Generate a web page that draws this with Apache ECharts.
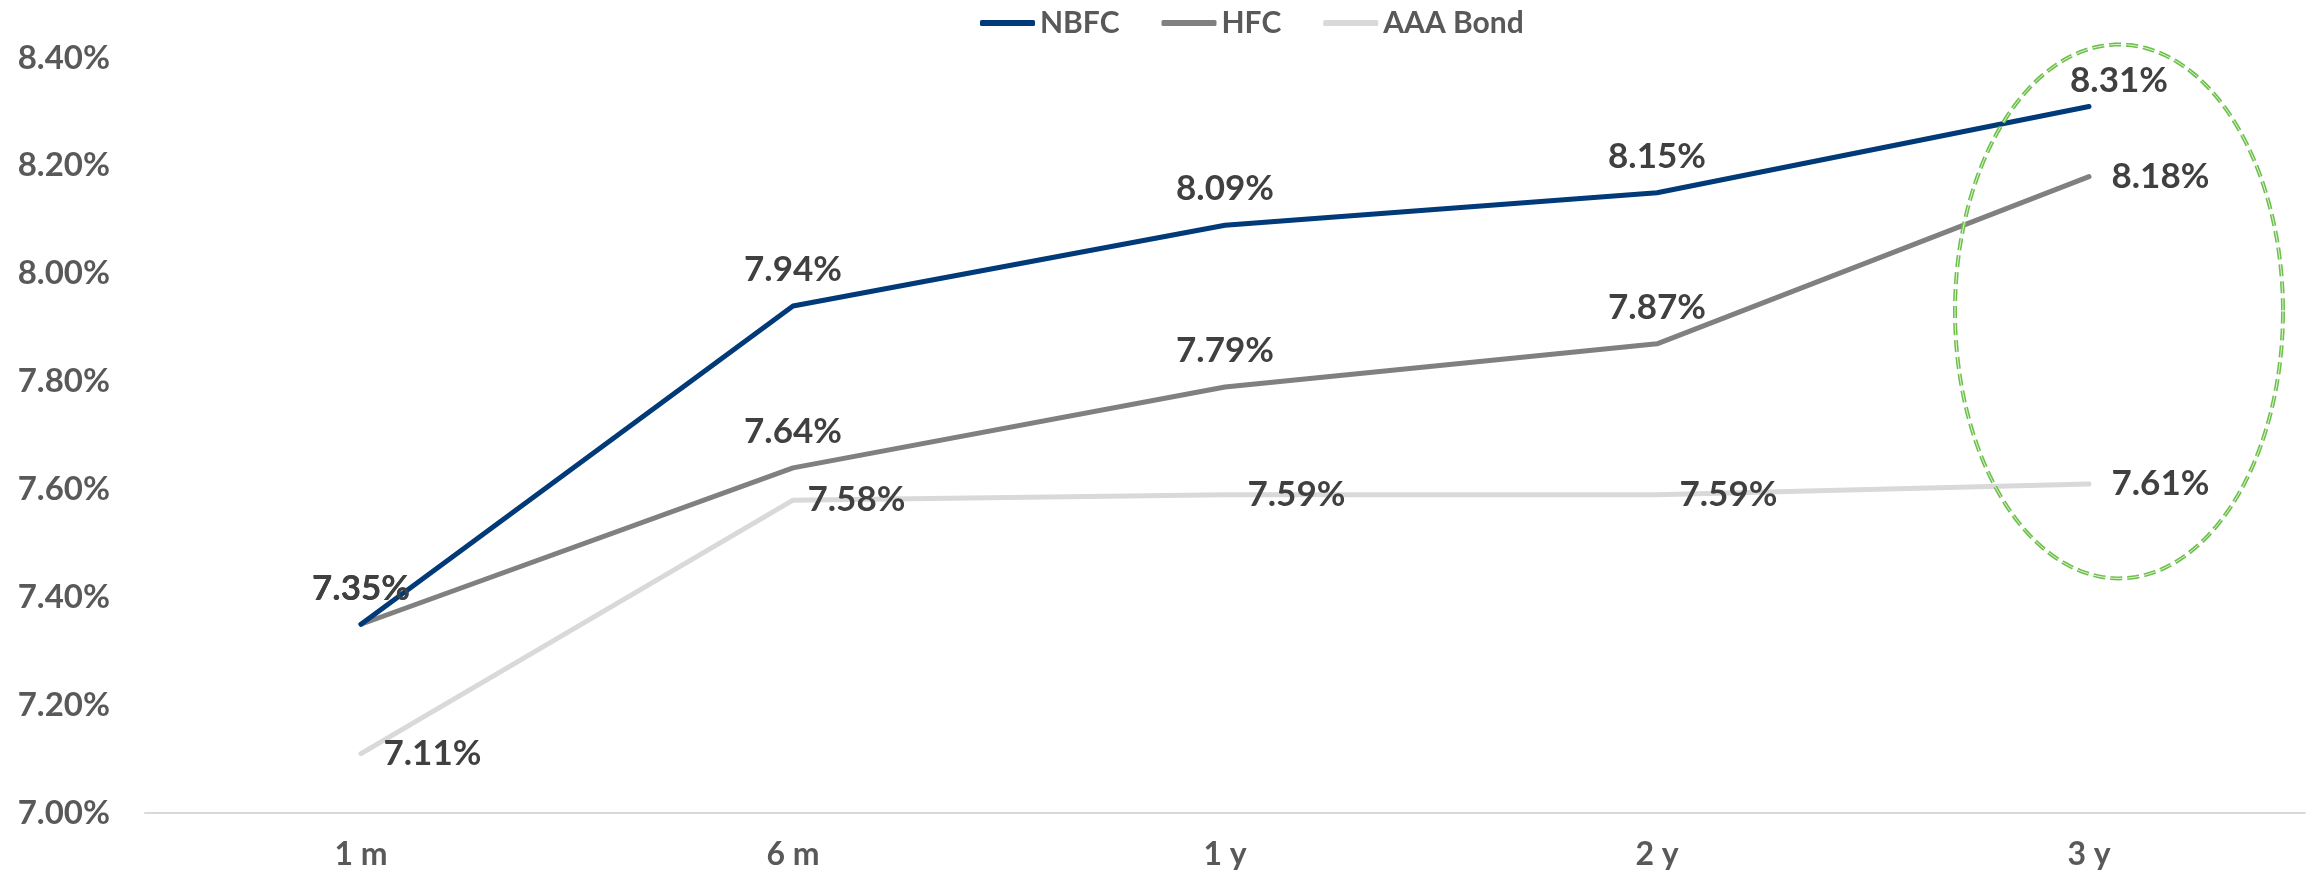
<!DOCTYPE html>
<html>
<head>
    <meta charset="UTF-8">
    <title>NBFC / HFC / AAA Bond</title>
    <style>
        html, body { margin: 0; padding: 0; background: #fff; }
        #main { width: 2315px; height: 880px; }
    </style>
    <script src="https://cdn.jsdelivr.net/npm/echarts@6/dist/echarts.min.js"></script>
</head>
<body>
<div id="main"></div>

<script type="text/javascript">
    // data
    var tenors = ['1 m', '6 m', '1 y', '2 y', '3 y'];
    var nbfc = [7.35, 7.94, 8.09, 8.15, 8.31];
    var hfc = [7.35, 7.64, 7.79, 7.87, 8.18];
    var aaaBond = [7.11, 7.58, 7.59, 7.59, 7.61];
    var seriesNames = ['NBFC', 'HFC', 'AAA Bond'];

    var yMin = 7.0, yMax = 8.4, yStep = 0.2;

    var FONT = 'Lato, "Open Sans", sans-serif';
    var labelText = {
        fontFamily: FONT,
        fontWeight: 'bold',
        fontSize: 35,
        color: '#404040'
    };

    function pct(v) { return v.toFixed(2) + '%'; }

    // build data items, with label placement tweaks per point
    function items(values, tweaks) {
        return values.map(function (v, i) {
            var item = { value: v };
            if (tweaks && tweaks[i]) item.label = tweaks[i];
            return item;
        });
    }

    var chart = echarts.init(document.getElementById('main'));

    var option = {
        animation: false,
        grid: { left: 145, right: 10, top: 58, bottom: 67 },
        legend: {
            data: seriesNames,
            left: 975,
            top: 3,
            icon: 'roundRect',
            itemWidth: 55,
            itemHeight: 6,
            itemGap: 42,
            textStyle: { fontFamily: FONT, fontWeight: 'bold', fontSize: 30, color: '#595959' }
        },
        xAxis: {
            type: 'category',
            data: tenors,
            boundaryGap: true,
            axisLine: { lineStyle: { color: '#d9d9d9', width: 2 } },
            axisTick: { show: false },
            axisLabel: { margin: 26, fontFamily: FONT, fontWeight: 'bold', fontSize: 32, color: '#595959' }
        },
        yAxis: {
            type: 'value',
            min: yMin,
            max: yMax,
            interval: yStep,
            splitLine: { show: false },
            axisLine: { show: false },
            axisTick: { show: false },
            axisLabel: {
                margin: 35,
                formatter: function (v) { return pct(v); },
                fontFamily: FONT, fontWeight: 'bold', fontSize: 33, color: '#595959'
            }
        },
        series: [
            {
                name: 'NBFC', type: 'line', z: 3,
                data: items(nbfc, { 4: { offset: [30, 10] } }),
                symbol: 'circle', symbolSize: 1,
                itemStyle: { color: '#003a78' },
                lineStyle: { color: '#003a78', width: 5, cap: 'round', join: 'round' },
                label: Object.assign({ show: true, position: 'top', distance: 18, formatter: function (p) { return pct(p.value); } }, labelText)
            },
            {
                name: 'HFC', type: 'line', z: 2,
                data: items(hfc, { 4: { position: 'right', distance: 22 } }),
                symbol: 'circle', symbolSize: 1,
                itemStyle: { color: '#808080' },
                lineStyle: { color: '#808080', width: 5, cap: 'round', join: 'round' },
                label: Object.assign({ show: true, position: 'top', distance: 18, formatter: function (p) { return pct(p.value); } }, labelText)
            },
            {
                name: 'AAA Bond', type: 'line', z: 1,
                data: items(aaaBond, { 1: { distance: 14 } }),
                symbol: 'circle', symbolSize: 1,
                itemStyle: { color: '#d9d9d9' },
                lineStyle: { color: '#d9d9d9', width: 5, cap: 'round', join: 'round' },
                label: Object.assign({ show: true, position: 'right', distance: 22, formatter: function (p) { return pct(p.value); } }, labelText)
            }
        ]
    };

    chart.setOption(option);

    // dashed green ellipse around the 3 y column, placed from axis coordinates
    var c = chart.convertToPixel({ gridIndex: 0 }, [4, 7.93]);
    var t = chart.convertToPixel({ gridIndex: 0 }, [4, 8.425]);
    var cx = c[0] + 30, cy = c[1], rx = 164, ry = c[1] - t[1];
    var pts = [];
    for (var k = 0; k < 240; k++) {
        var a = k / 240 * Math.PI * 2;
        pts.push([cx + rx * Math.cos(a), cy + ry * Math.sin(a)]);
    }
    chart.setOption({
        graphic: [
            {
                type: 'polygon', shape: { points: pts }, z: 10, silent: true,
                style: { fill: null, stroke: '#6cc04a', lineWidth: 4, lineDash: [12, 5] }
            },
            {
                type: 'polygon', shape: { points: pts }, z: 11, silent: true,
                style: { fill: null, stroke: 'rgba(255,255,255,0.8)', lineWidth: 1, lineDash: [12, 5] }
            }
        ]
    });
</script>
</body>
</html>
